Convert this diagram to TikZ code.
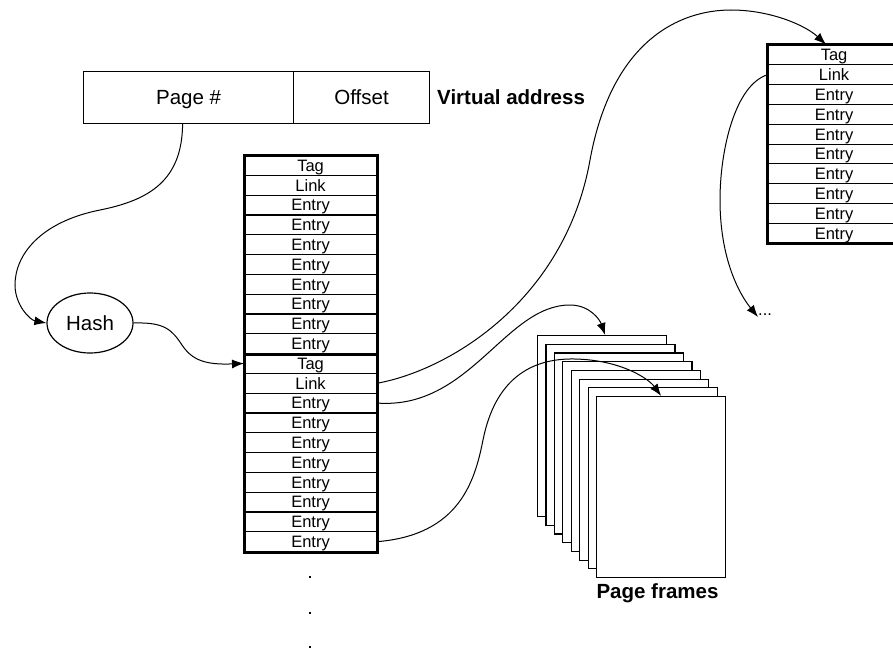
\documentclass[tikz,border=0pt]{standalone}
\usepackage{fontspec}
\setmainfont{Liberation Sans}
\usetikzlibrary{arrows.meta,shapes.geometric}
\begin{document}
\begin{tikzpicture}[x=1pt,y=-1pt,
  rowbox/.style={draw, line width=1.1pt, minimum width=132pt, minimum height=19.8pt, inner sep=0pt, text height=11.8pt, text depth=0pt, anchor=north west, font=\fontsize{16.5}{17}\selectfont},
  tblborder/.style={line width=3pt},
  vabox/.style={draw, line width=1.2pt, minimum height=52pt, inner sep=0pt, text height=14.7pt, text depth=0pt, anchor=north west, font=\fontsize{20.5}{24}\selectfont},
  framebox/.style={draw, fill=white, line width=1.2pt, minimum width=129pt, minimum height=181pt, inner sep=0pt, anchor=north west},
  conn/.style={line width=1pt, -{Latex[length=12pt,width=9pt]}},
  biglabel/.style={font=\fontsize{20.5}{24}\selectfont\bfseries, inner sep=0pt},
  dotnode/.style={rectangle, fill=black, inner sep=0pt, minimum size=2.8pt}
]
\useasboundingbox (0,0) rectangle (893,650);

% virtual address
\node[vabox, minimum width=210pt] (page) at (83,71) {Page \#};
\node[vabox, minimum width=136pt] (offset) at (293,71) {Offset};
\node[biglabel, anchor=west] (va) at (437,97) {Virtual address};

% hash
\node[draw, ellipse, line width=1.2pt, minimum width=86pt, minimum height=60pt, inner sep=0pt, text height=14.7pt, text depth=0pt, font=\fontsize{20.5}{24}\selectfont] (hash) at (90,323) {Hash};

% tables
\foreach \t [count=\k from 0] in {Tag,Link,Entry,Entry,Entry,Entry,Entry,Entry,Entry,Entry}{
  \node[rowbox] (ta\k) at (244,{155+19.8*\k}) {\t};
  \node[rowbox] (tb\k) at (244,{353+19.8*\k}) {\t};
  \node[rowbox] (tc\k) at (767.5,{44.5+19.8*\k}) {\t};
}
\draw[tblborder] (ta0.north west) rectangle (tb9.south east);
\draw[tblborder] (ta9.south west) -- (ta9.south east);
\draw[tblborder] (tc0.north west) rectangle (tc9.south east);

% page frames
\foreach \i in {0,...,7}{
  \node[framebox] (f\i) at ({537+8.43*\i},{335+8.7*\i}) {};
}
\node[biglabel] (pf) at (657.5,593) {Page frames};

% dots
\node[dotnode] (d1) at (310,577) {};
\node[dotnode] (d2) at (310,613) {};
\node[dotnode] (d3) at (310,647) {};
\node[anchor=west, inner sep=0pt, font=\fontsize{16.5}{17}\selectfont] (more) at (758,315) {...};

% connectors
\draw[conn] ([xshift=-6pt]page.south) .. controls (182,180) and (150,200) .. (100,210)
  .. controls (40,222) and (15,255) .. (15,285)
  .. controls (15,305) and (30,320) .. (hash.west);
\draw[conn] (hash.east) .. controls (165,322) and (172,330) .. (182,345)
  .. controls (192,360) and (205,365) .. (tb0.west);
\draw[conn] (tb1.east) .. controls (450,370) and (565,300) .. (590,160)
  .. controls (612,40) and (680,10) .. (731,10)
  .. controls (770,10) and (805,25) .. ([xshift=-8pt]tc0.north);
\draw[conn] (tb2.east) .. controls (470,410) and (505,305) .. (570,305)
  .. controls (590,305) and (600,320) .. ([xshift=3pt]f0.north);
\draw[conn] (tb9.east) .. controls (460,535) and (475,480) .. (483,440)
  .. controls (495,380) and (530,358) .. (575,359)
  .. controls (620,360) and (648,378) .. (f7.north);
\draw[conn] (tc1.west) .. controls (735,85) and (720,150) .. (720,200)
  .. controls (720,260) and (740,295) .. ([yshift=-2pt]more.west);
\end{tikzpicture}
\end{document}
